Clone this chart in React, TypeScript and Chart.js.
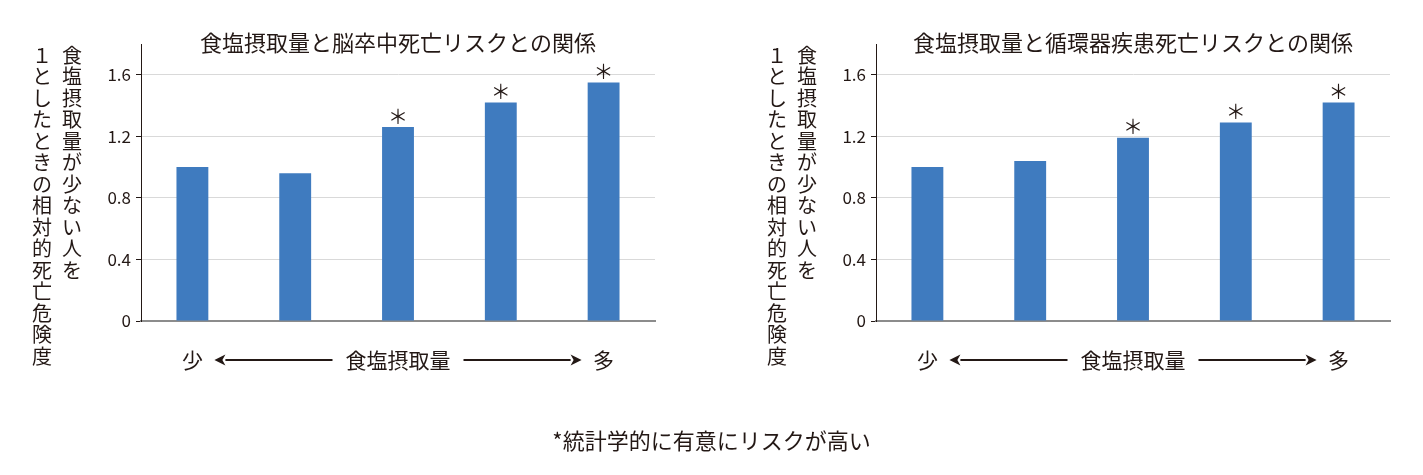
import React, { useEffect, useRef } from 'react';
import { Chart, registerables } from 'chart.js';
Chart.register(...registerables);

const categories = ['Q1', 'Q2', 'Q3', 'Q4', 'Q5'];
const strokeValues = [1.0, 0.96, 1.26, 1.42, 1.55];
const cvdValues = [1.0, 1.04, 1.19, 1.29, 1.42];
const strokeSignificant = [false, false, true, true, true];
const cvdSignificant = [false, false, true, true, true];
const yTickValues = [0, 0.4, 0.8, 1.2, 1.6];
const yMax = 1.8;
const strokeTitle = '食塩摂取量と脳卒中死亡リスクとの関係';
const cvdTitle = '食塩摂取量と循環器疾患死亡リスクとの関係';
const yTitleRight = '食塩摂取量が少ない人を';
const yTitleLeft = '１としたときの相対的死亡危険度';
const xLow = '少';
const xHigh = '多';
const xLabel = '食塩摂取量';
const footnote = '*統計学的に有意にリスクが高い';

const FONT = '"Noto Sans CJK JP", "Noto Sans", sans-serif';
const TEXT = '#231815';
const BAR = '#3f7bbf';
const W = 1423;
const H = 475;

function drawArrow(ctx: CanvasRenderingContext2D, x0: number, x1: number, y: number) {
  const dir = x1 > x0 ? 1 : -1;
  const head = 11;
  ctx.save();
  ctx.strokeStyle = TEXT;
  ctx.fillStyle = TEXT;
  ctx.lineWidth = 2;
  ctx.beginPath();
  ctx.moveTo(x0, y);
  ctx.lineTo(x1 - dir * head, y);
  ctx.stroke();
  ctx.beginPath();
  ctx.moveTo(x1, y);
  ctx.lineTo(x1 - dir * head, y - 5.5);
  ctx.lineTo(x1 - dir * (head - 3), y);
  ctx.lineTo(x1 - dir * head, y + 5.5);
  ctx.closePath();
  ctx.fill();
  ctx.restore();
}

function makeAnnotPlugin(title: string, sig: boolean[], withFootnote: boolean) {
  return {
    id: 'annot',
    afterDatasetsDraw(chart: any) {
      const ctx: CanvasRenderingContext2D = chart.ctx;
      const meta = chart.getDatasetMeta(0);
      ctx.save();
      ctx.fillStyle = TEXT;
      ctx.font = `20px ${FONT}`;
      ctx.textAlign = 'center';
      ctx.textBaseline = 'middle';
      meta.data.forEach((el: any, i: number) => {
        if (sig[i]) ctx.fillText('＊', el.x, el.y - 11);
      });
      ctx.restore();
    },
    afterDraw(chart: any) {
      const ctx: CanvasRenderingContext2D = chart.ctx;
      const area = chart.chartArea;
      const cx = (area.left + area.right) / 2;
      ctx.save();
      ctx.fillStyle = TEXT;
      ctx.textAlign = 'center';
      ctx.textBaseline = 'middle';
      ctx.font = `22px ${FONT}`;
      ctx.fillText(title, cx, area.top - 1);
      ctx.font = `20px ${FONT}`;
      const step = 21.5;
      const y0 = area.top + 11;
      Array.from(yTitleRight).forEach((ch, i) => {
        ctx.fillText(ch, area.left - 69, y0 + i * step);
      });
      Array.from(yTitleLeft).forEach((ch, i) => {
        ctx.fillText(ch, area.left - 99, y0 + i * step);
      });
      const meta = chart.getDatasetMeta(0);
      const first = meta.data[0].x;
      const last = meta.data[meta.data.length - 1].x;
      const ay = area.bottom + 39;
      ctx.font = `21px ${FONT}`;
      ctx.fillText(xLow, first, ay);
      ctx.fillText(xHigh, last, ay);
      ctx.fillText(xLabel, cx, ay);
      const tw = ctx.measureText(xLabel).width;
      drawArrow(ctx, cx - tw / 2 - 13, first + 22, ay);
      drawArrow(ctx, cx + tw / 2 + 13, last - 22, ay);
      if (withFootnote) {
        ctx.font = `22px ${FONT}`;
        ctx.fillText(footnote, W / 2, 441);
      }
      ctx.restore();
    },
  };
}

function makeChart(
  canvas: HTMLCanvasElement,
  values: number[],
  sig: boolean[],
  title: string,
  padLeft: number,
  padRight: number,
  withFootnote: boolean
) {
  return new Chart(canvas, {
    type: 'bar',
    data: {
      labels: categories,
      datasets: [
        {
          data: values,
          backgroundColor: BAR,
          borderWidth: 0,
          barPercentage: 0.31,
          categoryPercentage: 1,
        },
      ],
    },
    options: {
      responsive: false,
      animation: false,
      devicePixelRatio: 1,
      layout: { padding: { left: padLeft, right: padRight, top: 44, bottom: 154 } },
      plugins: { legend: { display: false }, tooltip: { enabled: false }, title: { display: false } },
      scales: {
        x: {
          ticks: { display: false },
          grid: { display: false },
          border: { display: true, color: '#8c8c8c', width: 2 },
          afterFit: (s: any) => {
            s.height = 0;
          },
        },
        y: {
          min: 0,
          max: yMax,
          afterBuildTicks: (s: any) => {
            s.ticks = yTickValues.map((v) => ({ value: v }));
          },
          afterFit: (s: any) => {
            s.width = 45;
          },
          ticks: {
            color: TEXT,
            font: { family: FONT, size: 17 },
            padding: 5,
            callback: (v: any) => (Number(v) === 0 ? '0' : Number(v).toFixed(1)),
          },
          grid: { color: '#d9d9d9', lineWidth: 1, drawTicks: true, tickLength: 5, tickColor: TEXT },
          border: { display: true, color: TEXT, width: 1 },
        },
      },
    },
    plugins: [makeAnnotPlugin(title, sig, withFootnote)],
  } as any);
}

export default function App() {
  const ref1 = useRef<HTMLCanvasElement>(null);
  const ref2 = useRef<HTMLCanvasElement>(null);
  useEffect(() => {
    const c1 = makeChart(ref1.current!, strokeValues, strokeSignificant, strokeTitle, 96, W - 655, true);
    const c2 = makeChart(ref2.current!, cvdValues, cvdSignificant, cvdTitle, 831, W - 1390, false);
    return () => {
      c1.destroy();
      c2.destroy();
    };
  }, []);
  const cs: React.CSSProperties = { position: 'absolute', left: 0, top: 0, width: W, height: H };
  return (
    <div style={{ position: 'fixed', left: 0, top: 0, width: W, height: H, background: '#fff' }}>
      <canvas ref={ref1} width={W} height={H} style={cs} />
      <canvas ref={ref2} width={W} height={H} style={cs} />
    </div>
  );
}
